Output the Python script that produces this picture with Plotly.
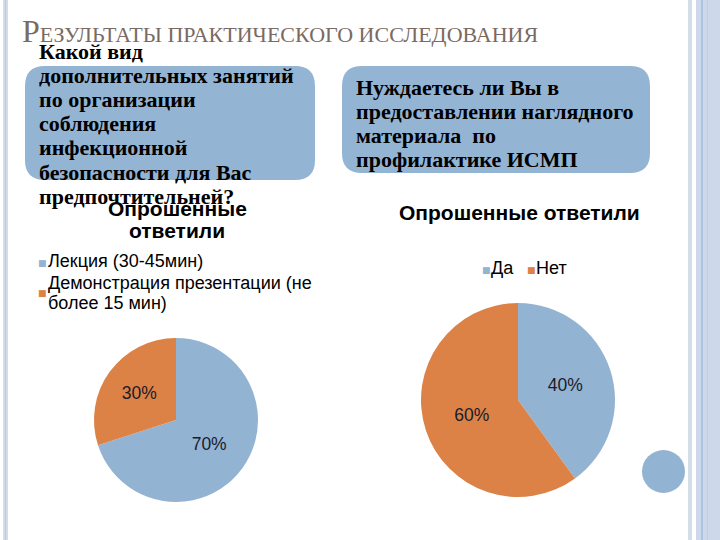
import plotly.graph_objects as go

# ---------------- data ----------------
title_text = "Результаты практического исследования"
q1_lines = ["Какой вид", "дополнительных занятий", "по организации", "соблюдения",
            "инфекционной", "безопасности для Вас", "предпочтительней?"]
q2_lines = ["Нуждаетесь ли Вы в", "предоставлении наглядного", "материала  по",
            "профилактике ИСМП"]
chart_title_1 = ["Опрошенные", "ответили"]
chart_title_2 = "Опрошенные ответили"
labels_1 = ["Лекция (30-45мин)", "Демонстрация презентации (не<br>более 15 мин)"]
values_1 = [70, 30]
labels_2 = ["Да", "Нет"]
values_2 = [40, 60]

BLUE = "#93b3d3"
ORANGE = "#dc8247"
W, H = 720, 540

fig = go.Figure()

def dom_x(cx, r):
    return [(cx - r) / W, (cx + r) / W]

def dom_y(cy, r):
    return [1 - (cy + r) / H, 1 - (cy - r) / H]

pie_font = dict(family="Liberation Sans, Arial", size=17.5, color="#1b1b2a")
fig.add_trace(go.Pie(labels=labels_1, values=values_1, sort=False, direction="clockwise",
                     rotation=0, marker=dict(colors=[BLUE, ORANGE], line=dict(width=0)),
                     textinfo="percent", textposition="inside", insidetextfont=pie_font,
                     insidetextorientation="horizontal", showlegend=False,
                     domain=dict(x=dom_x(176, 82), y=dom_y(420, 82)), hoverinfo="skip"))
fig.add_trace(go.Pie(labels=labels_2, values=values_2, sort=False, direction="clockwise",
                     rotation=0, marker=dict(colors=[BLUE, ORANGE], line=dict(width=0)),
                     textinfo="percent", textposition="inside", insidetextfont=pie_font,
                     insidetextorientation="horizontal", showlegend=False,
                     domain=dict(x=dom_x(518, 97), y=dom_y(400, 97)), hoverinfo="skip"))

# invisible pixel axes for decoration
fig.update_xaxes(range=[0, W], visible=False, fixedrange=True)
fig.update_yaxes(range=[H, 0], visible=False, fixedrange=True)

shapes = []
# borders
shapes.append(dict(type="rect", xref="x", yref="y", x0=3, x1=8, y0=0, y1=H,
                   fillcolor="#d2dcea", line=dict(width=0), layer="below"))
shapes.append(dict(type="rect", xref="x", yref="y", x0=5, x1=6, y0=0, y1=H,
                   fillcolor="#b9c9de", line=dict(width=0), layer="below"))
shapes.append(dict(type="rect", xref="x", yref="y", x0=688, x1=692, y0=0, y1=H,
                   fillcolor="#d3dee6", line=dict(width=0), layer="below"))
shapes.append(dict(type="rect", xref="x", yref="y", x0=696, x1=W, y0=0, y1=H,
                   fillcolor="#cdd9ea", line=dict(width=0), layer="below"))
shapes.append(dict(type="rect", xref="x", yref="y", x0=701, x1=703, y0=0, y1=H,
                   fillcolor="#adc4e0", line=dict(width=0), layer="below"))
shapes.append(dict(type="rect", xref="x", yref="y", x0=707, x1=708, y0=0, y1=H,
                   fillcolor="#bfd0e6", line=dict(width=0), layer="below"))

def rrect(x0, y0, x1, y1, r):
    return (f"M {x0+r},{y0} L {x1-r},{y0} Q {x1},{y0} {x1},{y0+r} "
            f"L {x1},{y1-r} Q {x1},{y1} {x1-r},{y1} L {x0+r},{y1} "
            f"Q {x0},{y1} {x0},{y1-r} L {x0},{y0+r} Q {x0},{y0} {x0+r},{y0} Z")

shapes.append(dict(type="path", xref="x", yref="y", path=rrect(25, 66, 315, 180, 20),
                   fillcolor="#94b4d4", line=dict(width=0), layer="below"))
shapes.append(dict(type="path", xref="x", yref="y", path=rrect(342, 66, 650, 173, 20),
                   fillcolor="#94b4d4", line=dict(width=0), layer="below"))
shapes.append(dict(type="circle", xref="x", yref="y", x0=642, x1=685, y0=450, y1=493,
                   fillcolor="#93b3d3", line=dict(width=0), layer="below"))

ann = []
# slide title with small caps
first, rest = title_text[0], title_text[1:].upper()
ann.append(dict(xref="x", yref="y", x=20, y=31, xanchor="left", yanchor="middle",
                text=f"<span style='font-size:32px'>{first}</span>{rest}", showarrow=False,
                font=dict(family="Liberation Serif", size=22, color="#7a6a62")))

serif = dict(family="Liberation Serif", size=22, color="#000000")
for i, line in enumerate(q1_lines):
    ann.append(dict(xref="x", yref="y", x=37, y=51 + 24.2 * i, xanchor="left", yanchor="middle",
                    text=f"<b>{line}</b>", showarrow=False, font=serif))
for i, line in enumerate(q2_lines):
    ann.append(dict(xref="x", yref="y", x=354, y=87 + 24.2 * i, xanchor="left", yanchor="middle",
                    text=f"<b>{line}</b>", showarrow=False, font=serif))

sans_b = dict(family="Liberation Sans, Arial", size=21, color="#000000")
for i, line in enumerate(chart_title_1):
    ann.append(dict(xref="x", yref="y", x=177, y=208 + 22 * i, xanchor="center", yanchor="middle",
                    text=f"<b>{line}</b>", showarrow=False, font=sans_b))
ann.append(dict(xref="x", yref="y", x=519, y=212, xanchor="center", yanchor="middle",
                text=f"<b>{chart_title_2}</b>", showarrow=False, font=sans_b))

leg_font = dict(family="Liberation Sans, Arial", size=18, color="#000000")
sq_font_b = dict(family="DejaVu Sans", size=9, color=BLUE)
sq_font_o = dict(family="DejaVu Sans", size=9, color=ORANGE)
# left legend (vertical)
ann.append(dict(xref="x", yref="y", x=36, y=263, xanchor="left", yanchor="middle",
                text="■", showarrow=False, font=sq_font_b))
ann.append(dict(xref="x", yref="y", x=46, y=261, xanchor="left", yanchor="middle",
                text=labels_1[0], showarrow=False, font=leg_font, align="left"))
ann.append(dict(xref="x", yref="y", x=36, y=293, xanchor="left", yanchor="middle",
                text="■", showarrow=False, font=sq_font_o))
for j, part in enumerate(labels_1[1].split("<br>")):
    ann.append(dict(xref="x", yref="y", x=46, y=283 + 20 * j, xanchor="left", yanchor="middle",
                    text=part, showarrow=False, font=leg_font, align="left"))
# right legend (horizontal)
ann.append(dict(xref="x", yref="y", x=480, y=270, xanchor="left", yanchor="middle",
                text="■", showarrow=False, font=sq_font_b))
ann.append(dict(xref="x", yref="y", x=489, y=268, xanchor="left", yanchor="middle",
                text=labels_2[0], showarrow=False, font=leg_font))
ann.append(dict(xref="x", yref="y", x=525, y=270, xanchor="left", yanchor="middle",
                text="■", showarrow=False, font=sq_font_o))
ann.append(dict(xref="x", yref="y", x=534, y=268, xanchor="left", yanchor="middle",
                text=labels_2[1], showarrow=False, font=leg_font))

fig.update_layout(width=W, height=H, margin=dict(l=0, r=0, t=0, b=0),
                  paper_bgcolor="white", plot_bgcolor="rgba(0,0,0,0)",
                  shapes=shapes, annotations=ann, showlegend=False)

fig.write_html("out.html", config={"displayModeBar": False})
